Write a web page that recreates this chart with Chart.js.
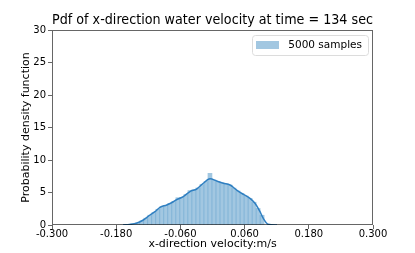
<!DOCTYPE html>
<html>
<head>
<meta charset="utf-8">
<script src="https://cdn.jsdelivr.net/npm/chart.js@4.4.0/dist/chart.umd.min.js"></script>
<style>
  html, body { margin: 0; padding: 0; background: #fff; }
  #wrap { width: 415px; height: 253px; }
</style>
</head>
<body>
<div id="wrap"><canvas id="myChart"></canvas></div>
<script>
// x-direction velocity histogram (bin centres, density) and kde curve
var xTicks = [-0.3, -0.18, -0.06, 0.06, 0.18, 0.3];
var yTicks = [0, 5, 10, 15, 20, 25, 30];

var binCenters = [-0.13975, -0.13225, -0.12475, -0.11725, -0.10975, -0.10225, -0.09475, -0.08725,
  -0.07975, -0.07225, -0.06475, -0.05725, -0.04975, -0.04225, -0.03475, -0.02725,
  -0.01975, -0.01225, -0.00475, 0.00275, 0.01025, 0.01775, 0.02525, 0.03275,
  0.04025, 0.04775, 0.05525, 0.06275, 0.07025, 0.07775, 0.08525, 0.09275];
var binHeights = [0.32, 0.64, 1.05, 1.51, 1.93, 2.42, 2.82, 3.03,
  3.32, 3.63, 4.2, 4.26, 4.69, 5.3, 5.41, 5.7,
  6.24, 6.71, 7.95, 6.93, 6.7, 6.49, 6.31, 6.15,
  5.68, 5.24, 4.85, 4.46, 4.1, 3.5, 2.55, 1.5];

var kdeX = [-0.1673, -0.155, -0.1411, -0.1293, -0.1168, -0.1075, -0.0981, -0.0856, -0.0733, -0.0682,
  -0.0546, -0.0421, -0.0295, -0.0172, -0.0047, 0.0079, 0.0202, 0.0327, 0.0452, 0.0576,
  0.0701, 0.0794, 0.0888, 0.0944, 0.1037, 0.1206];
var kdeY = [0, 0.08, 0.3, 0.77, 1.54, 2.05, 2.72, 3.08, 3.58, 3.85,
  4.35, 5.15, 5.54, 6.42, 7.1, 6.77, 6.42, 6.15, 5.38, 4.72,
  4.1, 3.34, 2.05, 1.08, 0.12, 0];

Chart.defaults.font.family = 'DejaVu Sans';
Chart.defaults.color = '#000';

// axes frame on all four sides + legend box in the upper right corner
var frame = {
  id: 'frame',
  afterDraw: function (chart) {
    var c = chart.ctx, a = chart.chartArea;
    c.save();
    c.strokeStyle = 'rgba(0,0,0,0.6)';
    c.lineWidth = 1;
    c.strokeRect(Math.round(a.left) + 0.5, Math.round(a.top) + 0.5,
      Math.round(a.right - a.left) - 1, Math.round(a.bottom - a.top) - 1);

    var ds = chart.data.datasets[1];
    c.font = '10.5px "DejaVu Sans"';
    var tw = c.measureText(ds.label).width;
    var right = a.right - 5, top = a.top + 5;
    var w = 4 + 23 + 9 + tw + 6, h = 20;
    var left = right - w;
    c.fillStyle = 'rgba(255,255,255,0.8)';
    c.strokeStyle = '#dcdcdc';
    c.beginPath();
    c.roundRect(Math.round(left) + 0.5, Math.round(top) + 0.5, Math.round(w), h, 3);
    c.fill();
    c.stroke();
    c.fillStyle = ds.backgroundColor;
    c.fillRect(Math.round(left) + 4, top + 6, 23, 8);
    c.fillStyle = '#000';
    c.textBaseline = 'middle';
    c.fillText(ds.label, left + 4 + 23 + 9, top + 10.5);
    c.restore();
  }
};

var ctx = document.getElementById('myChart').getContext('2d');

var myChart = new Chart(ctx, {
  type: 'bar',
  data: {
    datasets: [{
      type: 'line',
      label: 'kde',
      data: kdeX.map(function (x, i) { return { x: x, y: kdeY[i] }; }),
      borderColor: '#2f7fc1',
      borderWidth: 1.5,
      pointRadius: 0,
      cubicInterpolationMode: 'monotone',
      fill: false
    }, {
      label: '5000 samples',
      data: binCenters.map(function (x, i) { return { x: x, y: binHeights[i] }; }),
      backgroundColor: 'rgba(49,130,189,0.45)',
      borderWidth: 0,
      barPercentage: 1,
      categoryPercentage: 1
    }]
  },
  options: {
    responsive: true,
    maintainAspectRatio: false,
    animation: false,
    layout: { padding: { left: 0, right: 42, top: 0, bottom: 0 } },
    plugins: {
      title: {
        display: true,
        text: 'Pdf of x-direction water velocity at time = 134 sec',
        font: { size: 13.5, weight: 'normal' },
        fullSize: false,
        padding: { top: 12, bottom: 1.8 }
      },
      legend: { display: false },
      tooltip: { enabled: false }
    },
    scales: {
      x: {
        type: 'linear',
        min: -0.3,
        max: 0.3,
        offset: false,
        afterBuildTicks: function (scale) {
          scale.ticks = xTicks.map(function (v) { return { value: v }; });
        },
        afterFit: function (scale) { scale.height = 28; },
        grid: { display: true, drawOnChartArea: false, offset: false, tickLength: 4, color: 'rgba(0,0,0,0.6)' },
        border: { display: false },
        ticks: {
          padding: -1,
          maxRotation: 0,
          autoSkip: false,
          font: { size: 10 },
          callback: function (v) { return Number(v).toFixed(3); }
        },
        title: {
          display: true,
          text: 'x-direction velocity:m/s',
          font: { size: 11 },
          padding: { top: 0, bottom: 2 }
        }
      },
      y: {
        min: 0,
        max: 30,
        afterBuildTicks: function (scale) {
          scale.ticks = yTicks.map(function (v) { return { value: v }; });
        },
        afterFit: function (scale) { scale.width = 52; },
        grid: { display: true, drawOnChartArea: false, tickLength: 4, color: 'rgba(0,0,0,0.6)' },
        border: { display: false },
        ticks: { padding: 2, font: { size: 10 } },
        title: {
          display: true,
          text: 'Probability density function',
          font: { size: 11 },
          padding: { top: 20, bottom: 0 }
        }
      }
    }
  },
  plugins: [frame]
});
</script>
</body>
</html>
